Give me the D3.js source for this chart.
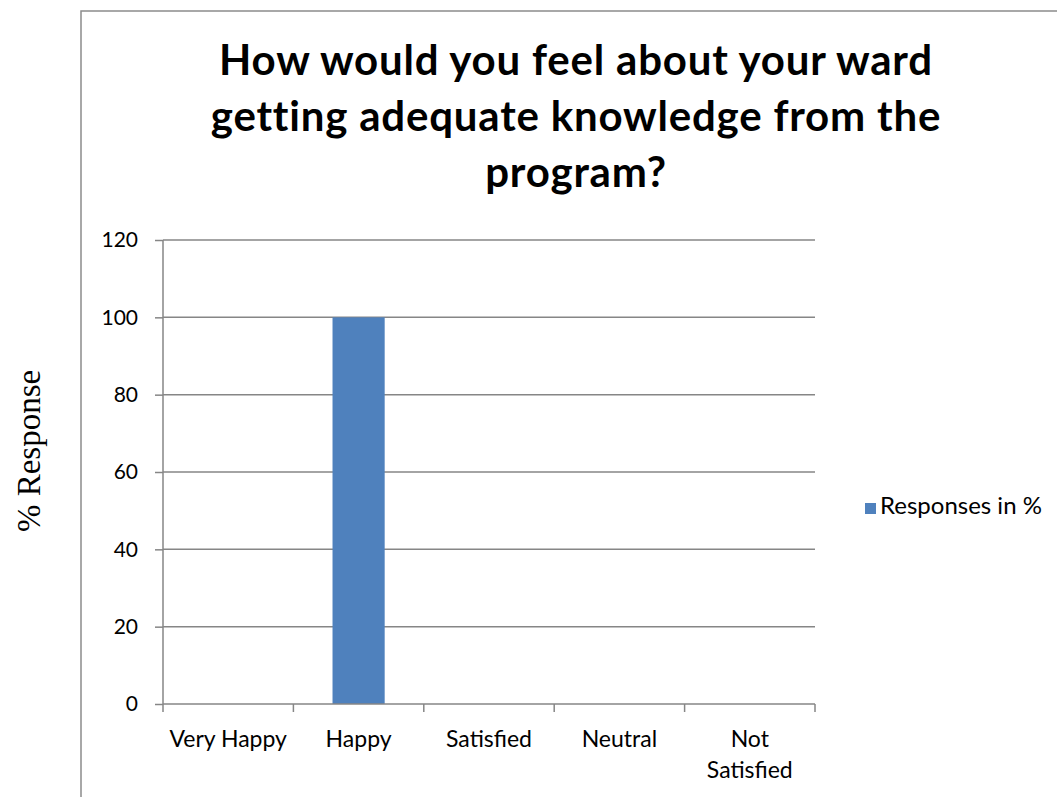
<!DOCTYPE html>
<html>
<head>
<meta charset="utf-8">
<script src="https://cdn.jsdelivr.net/npm/d3@7"></script>
<style>
  body { margin: 0; background: #fff; }
  text { font-family: "Lato", "Open Sans", sans-serif; }
</style>
</head>
<body>
<div id="chart"></div>
<script>
// Data
var categories = ["Very Happy", "Happy", "Satisfied", "Neutral", "Not Satisfied"];
var responses = [0, 100, 0, 0, 0];
var yTicks = [0, 20, 40, 60, 80, 100, 120];
var titleLines = ["How would you feel about your ward", "getting adequate knowledge from the", "program?"];
var seriesName = "Responses in %";

function init() {
  var w = 1057;
  var h = 797;
  var left = 163, right = 815, top = 240, bottom = 704;

  var svg = d3.select("#chart")
    .append("svg")
    .attr("width", w)
    .attr("height", h);

  // outer frame (cut off at right and bottom like the picture)
  svg.append("rect")
    .attr("x", 81)
    .attr("y", 11)
    .attr("width", 1100)
    .attr("height", 900)
    .attr("fill", "none")
    .attr("stroke", "#8c8c8c")
    .attr("stroke-width", 1.5);

  // Title
  svg.append("text")
    .attr("text-anchor", "middle")
    .style("font-weight", "bold")
    .style("font-size", "42px")
    .style("letter-spacing", "0.8px")
    .selectAll("tspan")
    .data(titleLines)
    .enter()
    .append("tspan")
    .attr("x", 576)
    .attr("y", function(d, i) { return 75 + i * 56; })
    .text(function(d) { return d; });

  var xScale = d3.scaleBand()
    .domain(categories)
    .range([left, right]);

  var yScale = d3.scaleLinear()
    .domain([0, 120])
    .range([bottom, top]);

  // gridlines
  svg.selectAll("line.grid")
    .data(yTicks.filter(function(d) { return d > 0; }))
    .enter()
    .append("line")
    .attr("class", "grid")
    .attr("x1", left)
    .attr("x2", right)
    .attr("y1", function(d) { return yScale(d); })
    .attr("y2", function(d) { return yScale(d); })
    .attr("stroke", "#868686")
    .attr("stroke-width", 1.5);

  // bars
  var bw = xScale.bandwidth();
  svg.selectAll("rect.bar")
    .data(responses)
    .enter()
    .append("rect")
    .attr("class", "bar")
    .attr("x", function(d, i) { return xScale(categories[i]) + bw * 0.3; })
    .attr("width", bw * 0.4)
    .attr("y", function(d) { return yScale(d); })
    .attr("height", function(d) { return bottom - yScale(d); })
    .attr("fill", "#4f81bd");

  // y-axis
  var yAxis = d3.axisLeft(yScale)
    .tickValues(yTicks)
    .tickSize(8)
    .tickPadding(17);
  var gy = svg.append("g")
    .attr("transform", "translate(" + left + ",0)")
    .call(yAxis);
  gy.selectAll("path, line").attr("stroke", "#868686").attr("stroke-width", 1.5);
  gy.select("path").attr("d", "M0," + top + "V" + bottom);
  gy.selectAll("text")
    .attr("fill", "#000")
    .style("font-size", "21px")
    .style("font-family", "Lato, sans-serif");

  // x-axis
  var xAxis = d3.axisBottom(xScale)
    .tickSize(0)
    .tickPadding(0);
  var gx = svg.append("g")
    .attr("transform", "translate(0," + bottom + ")")
    .call(xAxis);
  gx.select("path").attr("d", "M" + left + ",0H" + right).attr("stroke", "#868686").attr("stroke-width", 1.5);
  gx.selectAll(".tick line").remove();
  gx.selectAll(".tick text").remove();

  // category boundary ticks
  var bounds = categories.map(function(c) { return xScale(c); }).concat([right]);
  gx.selectAll("line.bound")
    .data(bounds)
    .enter()
    .append("line")
    .attr("class", "bound")
    .attr("x1", function(d) { return d; })
    .attr("x2", function(d) { return d; })
    .attr("y1", 0)
    .attr("y2", 8)
    .attr("stroke", "#868686")
    .attr("stroke-width", 1.5);

  // category labels (wrapped)
  var labelLines = {
    "Not Satisfied": ["Not", "Satisfied"]
  };
  gx.selectAll("text.cat")
    .data(categories)
    .enter()
    .append("text")
    .attr("class", "cat")
    .attr("text-anchor", "middle")
    .style("font-size", "23px")
    .attr("fill", "#000")
    .each(function(d) {
      var lines = labelLines[d] || [d];
      d3.select(this).selectAll("tspan")
        .data(lines)
        .enter()
        .append("tspan")
        .attr("x", xScale(d) + bw / 2)
        .attr("y", function(l, i) { return 43 + i * 31; })
        .text(function(l) { return l; });
    });

  // y label
  svg.append("text")
    .attr("text-anchor", "middle")
    .attr("transform", "translate(40,451) rotate(-90)")
    .style("font-family", "'Liberation Serif', 'Times New Roman', serif")
    .style("font-size", "33px")
    .text("% Response");

  // legend
  var legend = svg.append("g").attr("transform", "translate(865,503)");
  legend.append("rect")
    .attr("width", 11)
    .attr("height", 11)
    .attr("fill", "#4f81bd");
  legend.append("text")
    .attr("x", 15)
    .attr("y", 11)
    .style("font-size", "24px")
    .text(seriesName);
}

window.onload = init;
</script>
</body>
</html>
